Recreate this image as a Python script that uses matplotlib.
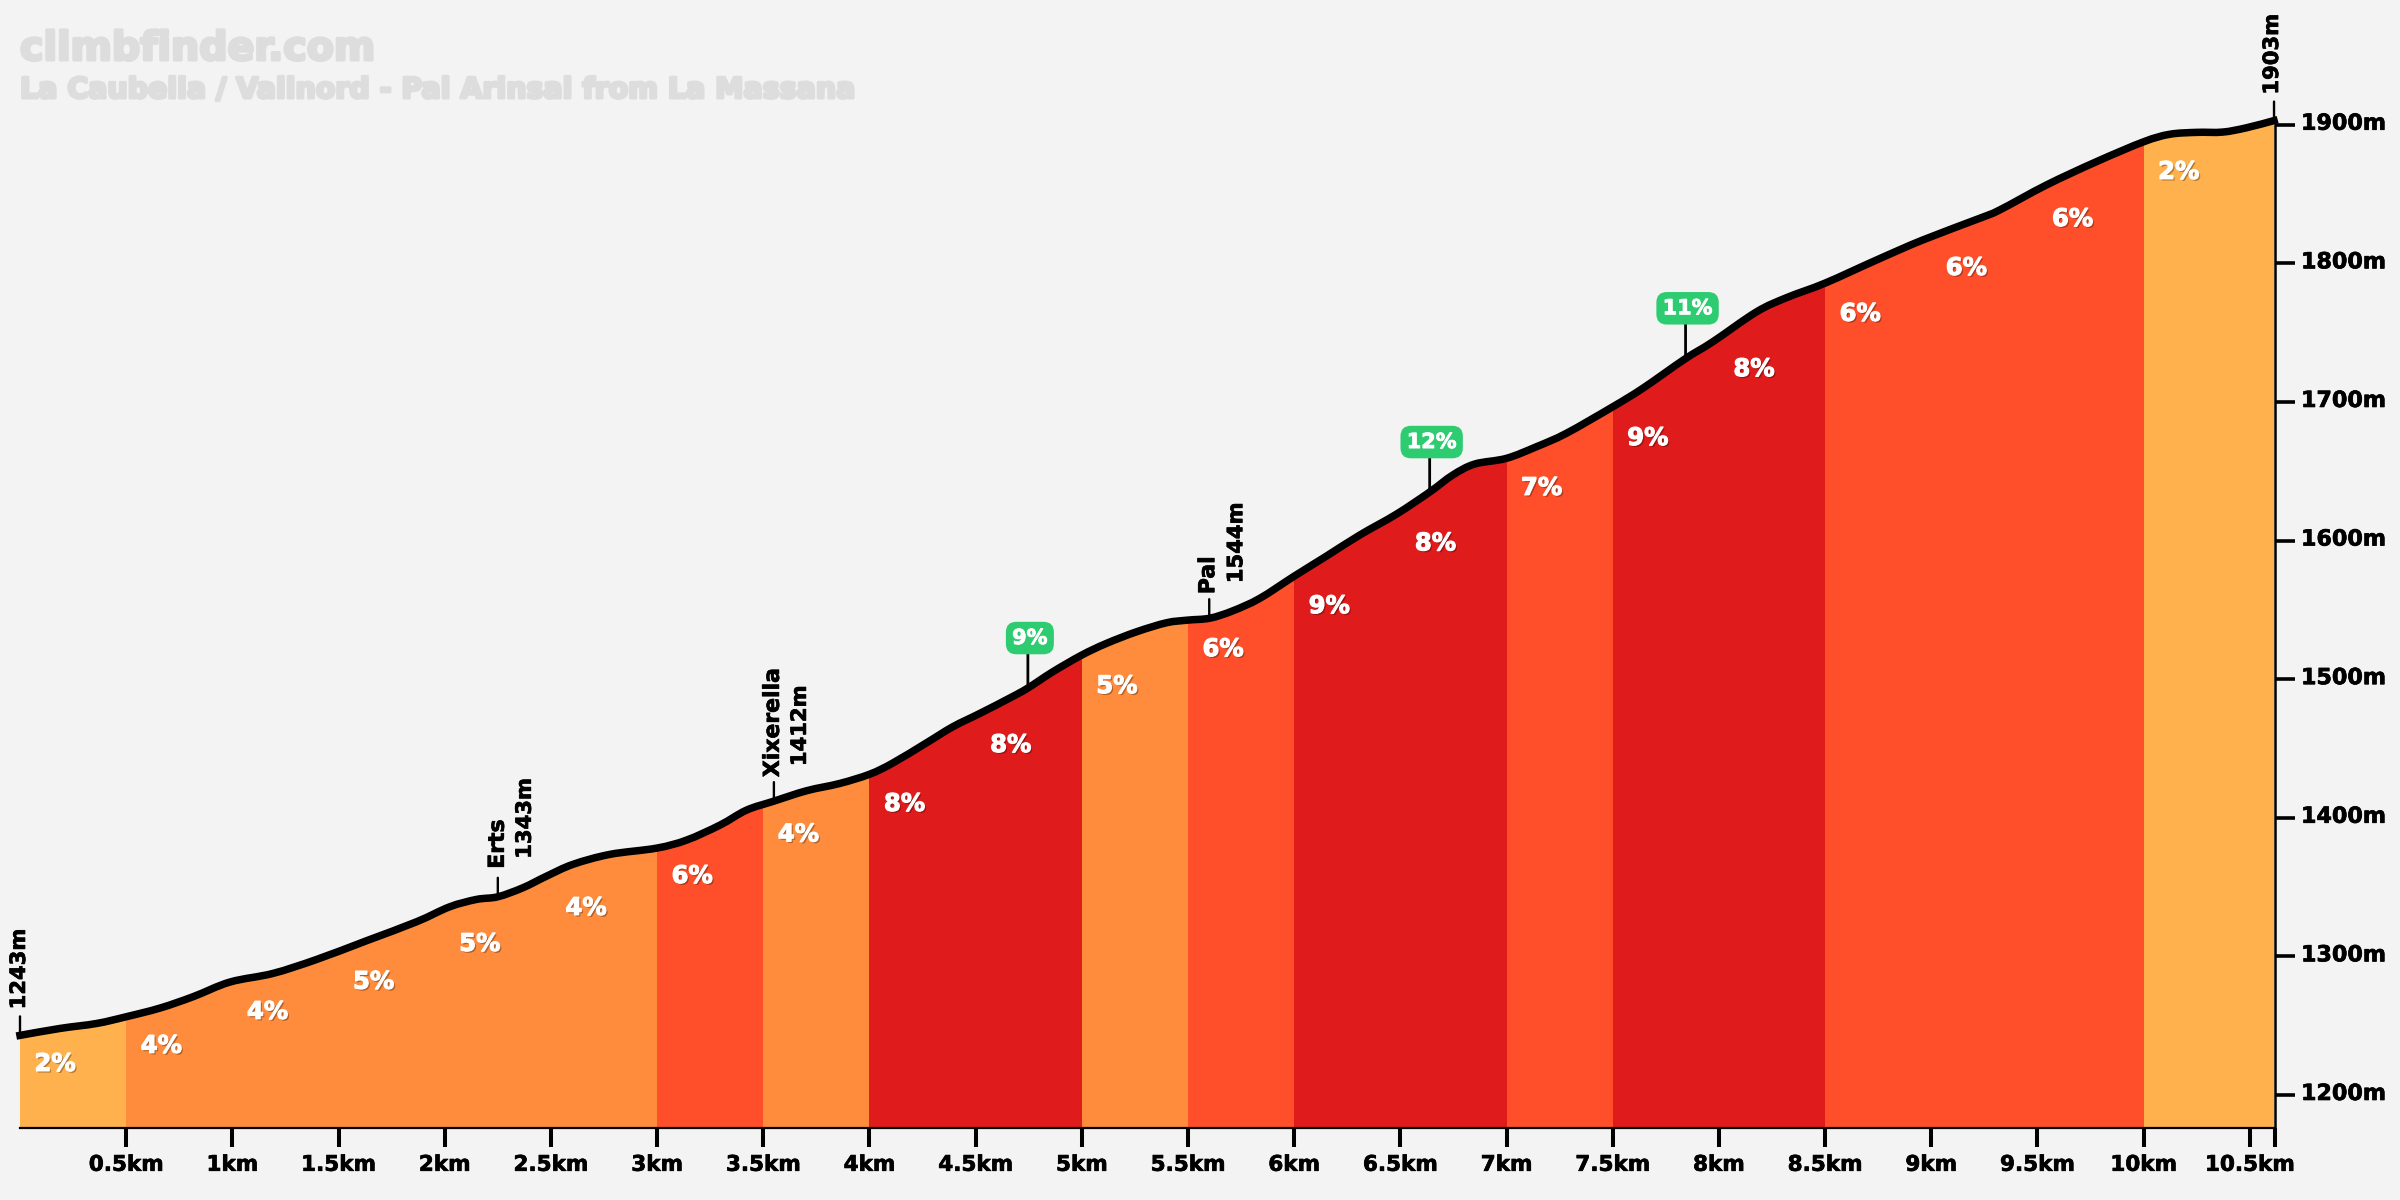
import matplotlib
matplotlib.use("Agg")
import matplotlib.pyplot as plt
import matplotlib.patheffects as pe
from matplotlib.patches import PathPatch
from matplotlib.path import Path
from matplotlib.transforms import ScaledTranslation

FONT = "DejaVu Sans"
BG = "#F3F3F3"

distance_km = [0, .188, .361, .499, .659, .815, .989, 1.191, 1.397, 1.632, 1.868, 2.024, 2.150, 2.25,
    2.368, 2.480, 2.604, 2.778, 2.998, 3.139, 3.296, 3.421, 3.55, 3.704, 3.861, 4.002, 4.11, 4.269,
    4.393, 4.52, 4.661, 4.746, 4.863, 5.0, 5.116, 5.258, 5.399, 5.499, 5.603, 5.711, 5.838, 6.001,
    6.152, 6.309, 6.482, 6.638, 6.747, 6.85, 6.999, 7.141, 7.282, 7.5, 7.641, 7.839, 7.971, 8.177,
    8.318, 8.501, 8.742, 8.959, 9.228, 9.322, 9.542, 9.777, 10.0, 10.122, 10.248, 10.372, 10.484, 10.614]
elevation_m = [1243, 1248, 1251.6, 1256.4, 1262.7, 1270.9, 1281.5, 1287.7, 1297.8, 1311.3, 1325, 1335.8,
    1341.1, 1343, 1349.5, 1357.9, 1366.4, 1373.6, 1378.1, 1383.9, 1394.7, 1405.5, 1412, 1419.5, 1424.8,
    1431.5, 1439.5, 1454.1, 1465.7, 1475.3, 1486.4, 1493.6, 1505.3, 1517.4, 1525.8, 1534.2, 1540.7,
    1542.6, 1544, 1549.3, 1558.3, 1574.4, 1588.8, 1604, 1619.1, 1635, 1647.3, 1655.2, 1659.3, 1667.7,
    1677.4, 1696.5, 1709.8, 1730.9, 1743.4, 1765, 1775.2, 1785.8, 1802.4, 1816.8, 1832.5, 1838.5,
    1856.5, 1873.3, 1887.7, 1893.1, 1894.5, 1894.7, 1897.8, 1903]

section_start_km = [0, .5, 1, 1.5, 2, 2.5, 3, 3.5, 4, 4.5, 5, 5.5, 6, 6.5, 7, 7.5, 8, 8.5, 9, 9.5, 10]
section_grade = [2, 4, 4, 5, 5, 4, 6, 4, 8, 8, 5, 6, 9, 8, 7, 9, 8, 6, 6, 6, 2]
section_label_m = [1222.4, 1235.5, 1260, 1281.7, 1309, 1335, 1358, 1388, 1410, 1452.5, 1495, 1521.7,
                   1552.7, 1598, 1638, 1674, 1723.7, 1763.6, 1796.7, 1832, 1866]
grade_colors = {2: "#FFB14E", 4: "#FF8C3D", 5: "#FF8C3D", 6: "#FF4F2A", 7: "#FF4F2A", 8: "#E01B1C", 9: "#E01B1C"}

END_KM = 10.62
x_ticks = [.5, 1, 1.5, 2, 2.5, 3, 3.5, 4, 4.5, 5, 5.5, 6, 6.5, 7, 7.5, 8, 8.5, 9, 9.5, 10, 10.5]
x_tick_labels = ["0.5km", "1km", "1.5km", "2km", "2.5km", "3km", "3.5km", "4km", "4.5km", "5km", "5.5km",
                 "6km", "6.5km", "7km", "7.5km", "8km", "8.5km", "9km", "9.5km", "10km", "10.5km"]
y_ticks = [1200, 1300, 1400, 1500, 1600, 1700, 1800, 1900]
y_tick_labels = ["1200m", "1300m", "1400m", "1500m", "1600m", "1700m", "1800m", "1900m"]

places = [("Erts", "1343m", 2.25, 1343), ("Xixerella", "1412m", 3.55, 1412), ("Pal", "1544m", 5.6, 1544)]
steep_km = [4.746, 6.638, 7.843]
steep_m = [1493.6, 1635, 1731.5]
steep_label = ["9%", "12%", "11%"]
title = "climbfinder.com"
subtitle = "La Caubella / Vallnord - Pal Arinsal from La Massana"

W, H = 2400, 1200
YMIN, YMAX = 1176.4, 1990
fig = plt.figure(figsize=(24, 12), dpi=100, facecolor=BG)
ax = fig.add_axes([20 / W, (H - 1127.7) / H, (2275.3 - 20) / W, 1127.7 / H])
ax.patch.set_visible(False)
ax.set_xlim(0, END_KM)
ax.set_ylim(YMIN, YMAX)


def smooth_path(xs, ys):
    """Bezier curve through the read points (Catmull-Rom handles)."""
    verts = [(xs[0], ys[0])]
    codes = [Path.MOVETO]
    n = len(xs)
    for i in range(n - 1):
        a, b = max(i - 1, 0), min(i + 2, n - 1)
        verts += [(xs[i] + (xs[i + 1] - xs[a]) / 6, ys[i] + (ys[i + 1] - ys[a]) / 6),
                  (xs[i + 1] - (xs[b] - xs[i]) / 6, ys[i + 1] - (ys[b] - ys[i]) / 6),
                  (xs[i + 1], ys[i + 1])]
        codes += [Path.CURVE4] * 3
    return verts, codes


verts, codes = smooth_path(distance_km, elevation_m)
outline = Path(verts + [(distance_km[-1], YMIN), (0, YMIN), verts[0]],
               codes + [Path.LINETO, Path.LINETO, Path.CLOSEPOLY])
profile = PathPatch(outline, transform=ax.transData, facecolor="none", edgecolor="none")
ends = section_start_km[1:] + [END_KM]
for start, end, grade in zip(section_start_km, ends, section_grade):
    bars = ax.bar(start, YMAX - YMIN, bottom=YMIN, width=end - start, align="edge",
                  color=grade_colors[grade], linewidth=0, zorder=1)
    for b in bars:
        b.set_clip_path(profile)

ax.add_patch(PathPatch(Path(verts, codes), facecolor="none", edgecolor="black", lw=5.4,
                       capstyle="projecting", joinstyle="round", clip_on=False, zorder=4))

shadow = [pe.SimplePatchShadow(offset=(1.2, -1.2), shadow_rgbFace="black", alpha=0.3),
          pe.Stroke(linewidth=0.8, foreground="white"), pe.Normal()]
for start, grade, ym in zip(section_start_km, section_grade, section_label_m):
    ax.text(start + 0.165, ym, f"{grade}%", color="white", fontsize=17.5, fontweight="bold",
            family=FONT, ha="center", va="center", zorder=5, path_effects=shadow)

PX = 0.72  # points per pixel
black_heavy = [pe.Stroke(linewidth=0.5, foreground="black"), pe.Normal()]


def rot_label(text, km, m, dx_px, dy_px, size=15.8):
    ax.annotate(text, (km, m), xytext=(dx_px * PX, dy_px * PX), textcoords="offset points", rotation=90,
                ha="center", va="bottom", fontsize=size, fontweight="bold", family=FONT, color="black",
                annotation_clip=False, zorder=6, path_effects=black_heavy)


def stem(km, m, length_px, lw=1.7):
    ax.annotate("", (km, m), xytext=(0, length_px * PX), textcoords="offset points",
                arrowprops=dict(arrowstyle="-", color="black", lw=lw, shrinkA=0, shrinkB=0),
                annotation_clip=False, zorder=3)


offsets = {"Erts": (0, 28, 27, 38), "Xixerella": (-1, 24, 26, 35), "Pal": (-1, 24, 27, 35)}
for name, height, km, m in places:
    d = offsets[name]
    stem(km, m, 19)
    rot_label(name, km, m, d[0], d[1])
    rot_label(height, km, m, d[2], d[3], size=15.2)

stem(distance_km[0], elevation_m[0], 19)
rot_label("1243m", distance_km[0], elevation_m[0], -1, 26, size=15.2)
stem(distance_km[-1], elevation_m[-1], 19)
rot_label("1903m", distance_km[-1], elevation_m[-1], -2, 26, size=15.2)

for km, m, label in zip(steep_km, steep_m, steep_label):
    stem(km, m, 34, lw=2)
    ax.annotate(label, (km, m), xytext=(2 * PX, 50 * PX), textcoords="offset points", ha="center", va="center",
                fontsize=15, fontweight="bold", family=FONT, color="white", annotation_clip=False, zorder=6,
                path_effects=[pe.Stroke(linewidth=0.6, foreground="white"), pe.Normal()],
                bbox=dict(boxstyle="round,pad=0.3,rounding_size=0.5", facecolor="#2ECC71", edgecolor="none"))

for s in ["top", "left"]:
    ax.spines[s].set_visible(False)
ax.spines["bottom"].set_linewidth(1.6)
ax.spines["right"].set_linewidth(1.8)
ax.spines["right"].set_bounds(YMIN, 1903)
ax.spines["right"].set_zorder(3)

ax.set_xticks(x_ticks + [END_KM], x_tick_labels + [""])
ax.set_yticks(y_ticks, y_tick_labels)
ax.yaxis.tick_right()
ax.tick_params(axis="x", length=13.5, width=2.9, pad=6, labelsize=15.5, color="black")
ax.tick_params(axis="y", length=14.5, width=2.6, pad=4, labelsize=16, color="black")
for t in ax.get_xticklabels() + ax.get_yticklabels():
    t.set_family(FONT)
    t.set_fontweight("bold")
    t.set_path_effects(black_heavy)
up = ScaledTranslation(0, 3 / 100, fig.dpi_scale_trans)
for t in ax.get_yticklabels():
    t.set_transform(t.get_transform() + up)

heavy = [pe.Stroke(linewidth=2.2, foreground="#DDDDDD"), pe.Normal()]
fig.text(20 / W, 1 - 60 / H, title, color="#DDDDDD", fontsize=28.5, fontweight="bold", family=FONT,
         ha="left", va="baseline", path_effects=heavy)
fig.text(20 / W, 1 - 98 / H, subtitle, color="#DDDDDD", fontsize=20.5, fontweight="bold", family=FONT,
         ha="left", va="baseline", path_effects=heavy)

fig.savefig("out.png", dpi=100, facecolor=BG)
